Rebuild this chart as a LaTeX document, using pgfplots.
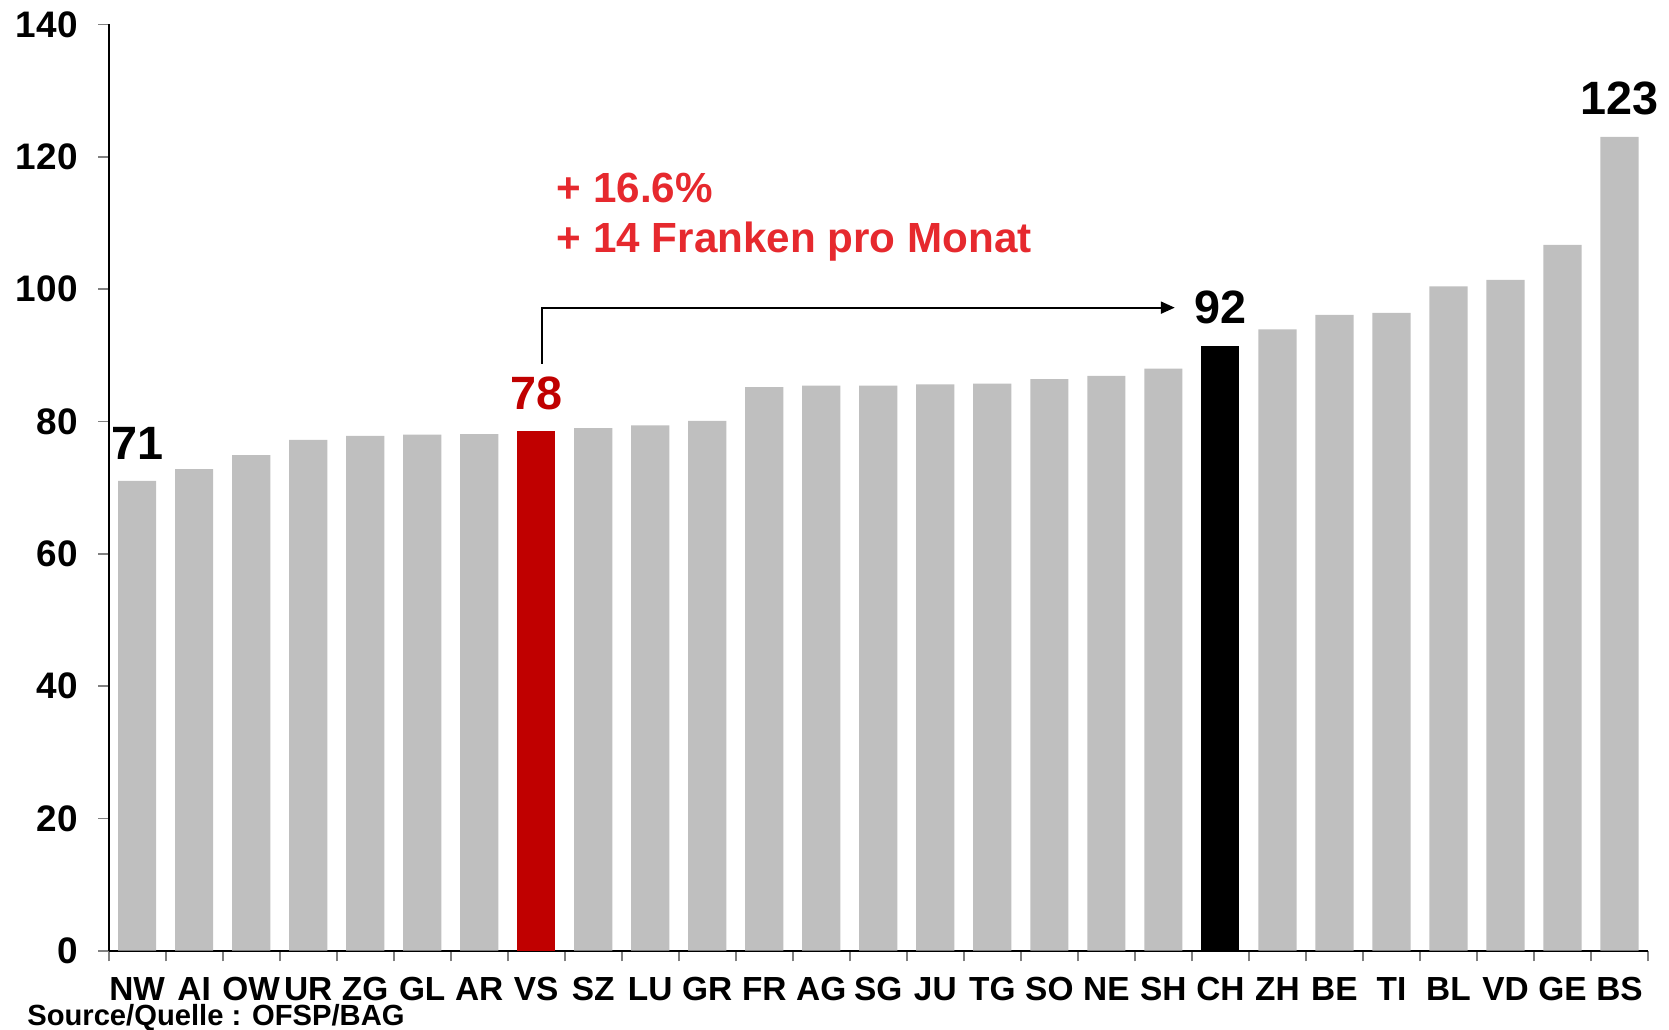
\documentclass[border=0pt]{standalone}
\usepackage{fontspec}
\setmainfont{Liberation Sans}
\usepackage{pgfplots}
\pgfplotsset{compat=1.18}
\usetikzlibrary{arrows.meta}
\definecolor{bargray}{RGB}{191,191,191}
\definecolor{vsred}{RGB}{192,0,0}
\definecolor{notered}{RGB}{230,41,46}

\begin{document}
\begin{tikzpicture}
  \begin{axis}[
    name=ax,
    scale only axis,
    width=153.9mm, height=92.6mm,
    xmin=-0.5, xmax=26.5, ymin=0, ymax=140,
    ybar, bar width=0.67,
    axis x line*=bottom, axis y line*=left,
    axis line style={black, line width=0.6pt},
    xtick={0,...,26},
    xticklabels={NW,AI,OW,UR,ZG,GL,AR,VS,SZ,LU,GR,FR,AG,SG,JU,TG,SO,NE,SH,CH,ZH,BE,TI,BL,VD,GE,BS},
    minor xtick={-0.5,0.5,...,26.5},
    ytick={0,20,...,140},
    tick align=outside,
    major tick length=3pt, minor tick length=3pt,
    major x tick style={draw=none},
    minor x tick style={gray, line width=0.5pt},
    major y tick style={gray, line width=0.5pt},
    xticklabel style={font=\fontsize{9.5}{11}\selectfont\bfseries, yshift=-1pt},
    yticklabel style={font=\fontsize{10.5}{12}\selectfont\bfseries, xshift=-2.3pt},
    /pgf/number format/assume math mode=true,
    clip=false,
  ]
    % other cantons
    \addplot[fill=bargray, draw=none, bar shift=0pt] coordinates {
      (0,71.0) (1,72.8) (2,74.9) (3,77.2) (4,77.8) (5,78.0) (6,78.1)
      (8,79.0) (9,79.4) (10,80.1) (11,85.2) (12,85.4) (13,85.4) (14,85.6)
      (15,85.7) (16,86.4) (17,86.9) (18,88.0)
      (20,93.9) (21,96.1) (22,96.4) (23,100.4) (24,101.4) (25,106.7) (26,123.0)
    };
    % VS
    \addplot[fill=vsred, draw=none, bar shift=0pt] coordinates {(7,78.5)};
    % CH
    \addplot[fill=black, draw=none, bar shift=0pt] coordinates {(19,91.4)};

    \node[anchor=south, inner sep=0pt, yshift=6pt, font=\fontsize{13.3}{15}\selectfont\bfseries] at (axis cs:0,71.0) {71};
    \node[anchor=south, inner sep=0pt, yshift=6pt, text=vsred, font=\fontsize{13.3}{15}\selectfont\bfseries] at (axis cs:7,78.5) {78};
    \node[anchor=south, inner sep=0pt, yshift=6pt, font=\fontsize{13.3}{15}\selectfont\bfseries] at (axis cs:19,91.4) {92};
    \node[anchor=south, inner sep=0pt, yshift=6pt, font=\fontsize{13.3}{15}\selectfont\bfseries] at (axis cs:26,123.0) {123};

    \draw[line width=0.6pt, -{Triangle[length=1.4mm, width=1.2mm]}]
      (axis cs:7.1,88.7) |- (axis cs:18.2,97.2);

    \node[anchor=base west, inner sep=0pt, text=notered, font=\fontsize{12}{14}\selectfont\bfseries] at (axis cs:7.35,113.1) {+ 16.6\%};
    \node[anchor=base west, inner sep=0pt, text=notered, font=\fontsize{12}{14}\selectfont\bfseries] at (axis cs:7.35,105.6) {+ 14 Franken pro Monat};
  \end{axis}
  \node[anchor=base west, inner sep=0pt, font=\fontsize{8.3}{10}\selectfont\bfseries]
    at ([shift={(-8.2mm,-7.45mm)}]ax.south west) {Source/Quelle : OFSP/BAG};
  \pgfresetboundingbox
  \useasboundingbox ([shift={(-10.86mm,-7.85mm)}]ax.south west) rectangle ([shift={(2.1mm,2.45mm)}]ax.north east);
\end{tikzpicture}
\end{document}
